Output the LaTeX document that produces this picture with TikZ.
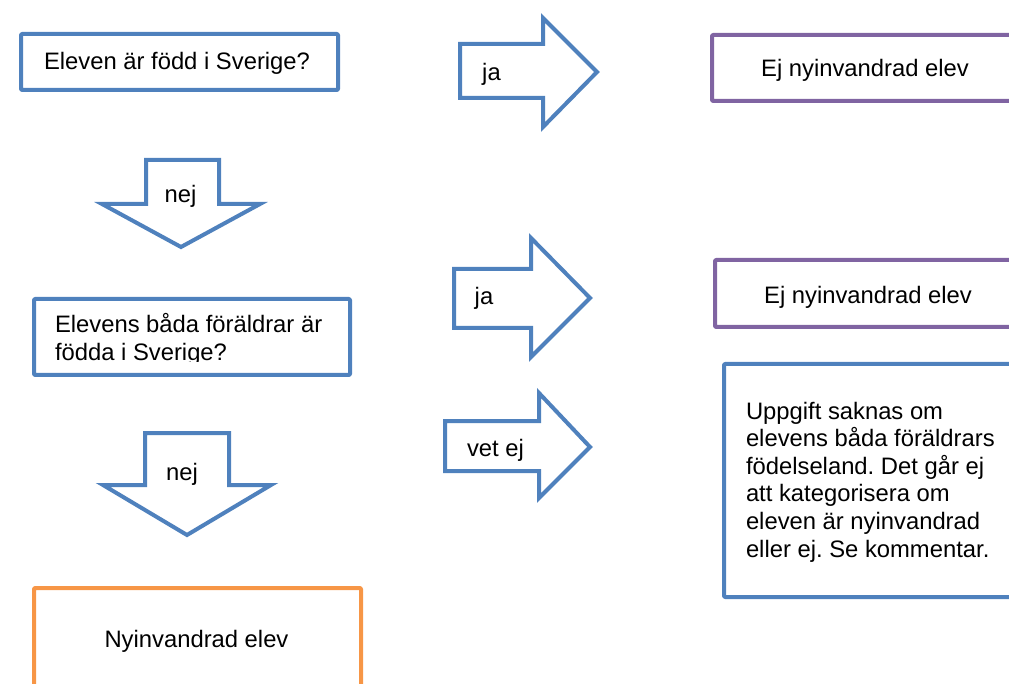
\documentclass[tikz,border=0pt]{standalone}
\usepackage{fontspec}
\setmainfont{Liberation Sans}
\frenchspacing
\definecolor{oblue}{HTML}{4F81BD}
\definecolor{opurple}{HTML}{8064A2}
\definecolor{oorange}{HTML}{F79646}
\begin{document}
\begin{tikzpicture}[x=1pt,y=-1pt,
  frame/.style={line width=4pt, line join=round, rounded corners=1pt},
  blockarrow/.style={draw=oblue, line width=4pt, line join=miter, fill=white},
  lbl/.style={inner sep=0pt, outer sep=0pt, text=black, font=\fontsize{23.8}{27.5}\selectfont}]
\useasboundingbox (0,0) rectangle (1009,684);
\clip (0,0) rectangle (1009,684);

% question 1
\draw[frame, draw=oblue] (21,34) rectangle (338,90);
\node[lbl, anchor=base] (q1) at (177,70) {Eleven är född i Sverige?};

% down arrow 1 (nej)
\draw[blockarrow] (146,160) -- (219,160) -- (219,204) -- (260,204) -- (181,247)
  -- (102,204) -- (146,204) -- cycle;
\node[lbl, anchor=base] (nej1) at (180.5,203) {nej};

% question 2 (text clipped at the bottom as in the original)
\draw[frame, draw=oblue] (34,299) rectangle (350,375);
\begin{scope}
  \clip (36,301) rectangle (348,362);
  \node[lbl, anchor=base west] (q2) at (55,333)
    {\vtop{\baselineskip=27.5pt\lineskiplimit=-30pt
      \hbox{Elevens båda föräldrar är}\hbox{födda i Sverige?}}};
\end{scope}

% down arrow 2 (nej)
\draw[blockarrow] (145,433) -- (229,433) -- (229,485) -- (271,485) -- (187,535)
  -- (103,485) -- (145,485) -- cycle;
\node[lbl, anchor=base] (nej2) at (182,480) {nej};

% result: nyinvandrad
\draw[frame, draw=oorange] (34,588) rectangle (361,720);
\node[lbl, anchor=base] (res3) at (196.5,647) {Nyinvandrad elev};

% right arrow 1 (ja)
\draw[blockarrow] (460,44) -- (543,44) -- (543,18) -- (597,72) -- (543,127)
  -- (543,98) -- (460,98) -- cycle;
\node[lbl, anchor=base] (ja1) at (491.5,81) {ja};

% result 1
\draw[frame, draw=opurple] (712,35) rectangle (1030,101);
\node[lbl, anchor=base] (res1) at (865,77) {Ej nyinvandrad elev};

% right arrow 2 (ja)
\draw[blockarrow] (454,269) -- (531,269) -- (531,238) -- (590,298) -- (531,357)
  -- (531,328) -- (454,328) -- cycle;
\node[lbl, anchor=base] (ja2) at (484,305) {ja};

% result 2
\draw[frame, draw=opurple] (715,260) rectangle (1030,327);
\node[lbl, anchor=base] (res2) at (868,304) {Ej nyinvandrad elev};

% right arrow 3 (vet ej)
\draw[blockarrow] (445,421) -- (539,421) -- (539,393) -- (590,447) -- (539,498)
  -- (539,471) -- (445,471) -- cycle;
\node[lbl, anchor=base] (vetej) at (495.5,456) {vet ej};

% result: unknown
\draw[frame, draw=oblue] (724,364) rectangle (1030,597);
\node[lbl, anchor=base west] (res4) at (746,419)
  {\vtop{\baselineskip=27.6pt\lineskiplimit=-30pt
    \hbox{Uppgift saknas om}
    \hbox{elevens båda föräldrars}
    \hbox{födelseland. Det går ej}
    \hbox{att kategorisera om}
    \hbox{eleven är nyinvandrad}
    \hbox{eller ej. Se kommentar.}}};
\end{tikzpicture}
\end{document}
